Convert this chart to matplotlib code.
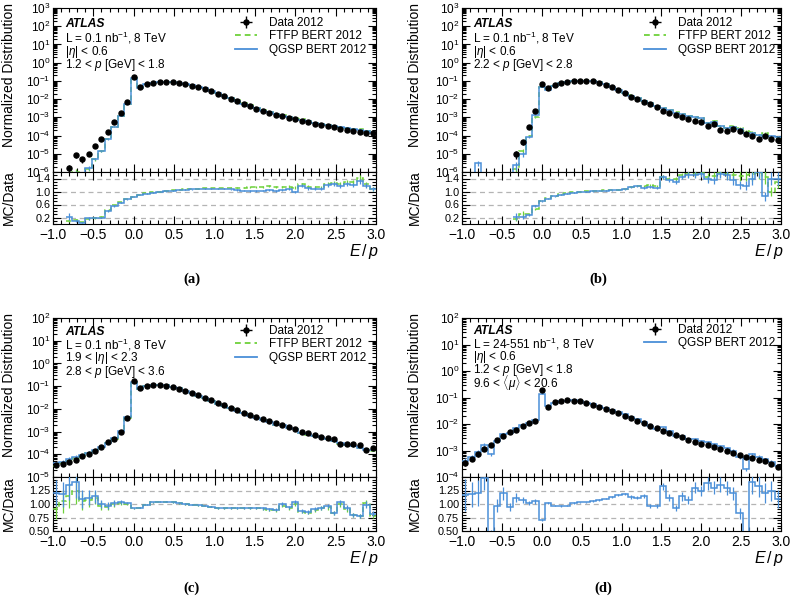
import numpy as np
import matplotlib
matplotlib.use("Agg")
import matplotlib.pyplot as plt
from matplotlib.ticker import MultipleLocator, LogLocator, NullFormatter
from matplotlib.lines import Line2D

nan = np.nan

# 50 bins of width 0.08 in E/p, from -1 to 3
ep_edges = np.linspace(-1.0, 3.0, 51)

# ---------------- panel (a) ----------------
data_a = [nan, nan, 1.7e-6, 8.5e-6, 5e-6, 1.0e-5, 2.6e-5, 6.7e-5, 1.6e-4, 5.4e-4,
          1.8e-3, 7.0e-3, 0.17, 0.045, 0.069, 0.081, 0.085, 0.087, 0.085, 0.074,
          0.066, 0.055, 0.045, 0.036, 0.027, 0.020, 0.0144, 0.0107, 0.0077, 0.0055,
          0.0041, 0.0030, 0.0023, 0.0018, 0.0014, 0.00115, 9.3e-4, 7.8e-4, 6.3e-4, 5.4e-4,
          4.5e-4, 3.8e-4, 3.2e-4, 2.8e-4, 2.4e-4, 2.0e-4, 1.85e-4, 1.6e-4, 1.45e-4, 1.3e-4]
qgsp_a_ratio = [nan, nan, 0.22, 0.10, 0.04, 0.17, 0.20, 0.20, 0.40, 0.55,
                0.66, 0.76, 0.83, 0.89, 0.93, 0.96, 0.99, 1.01, 1.03, 1.05,
                1.06, 1.07, 1.08, 1.09, 1.09, 1.09, 1.08, 1.07, 1.05, 1.03,
                1.02, 1.02, 1.03, 1.04, 1.03, 1.06, 1.07, 0.98, 1.18, 1.10,
                1.09, 1.08, 1.20, 1.22, 1.17, 1.24, 1.20, 1.32, 1.18, 1.08]
ftfp_a_ratio = [nan, nan, 0.10, 0.12, 0.05, 0.15, 0.19, 0.22, 0.42, 0.57,
                0.67, 0.77, 0.84, 0.90, 0.94, 0.97, 1.00, 1.02, 1.04, 1.06,
                1.07, 1.08, 1.09, 1.10, 1.10, 1.10, 1.10, 1.11, 1.12, 1.12,
                1.14, 1.14, 1.15, 1.16, 1.15, 1.14, 1.15, 1.12, 1.22, 1.14,
                1.13, 1.13, 1.24, 1.25, 1.22, 1.30, 1.28, 1.42, 1.22, 1.08]
rel_err_a = [0.3, 0.3, 0.5, 0.35, 0.4, 0.25, 0.15, 0.1, 0.06, 0.04,
             0.03, 0.02, 0.01, 0.01, 0.01, 0.01, 0.01, 0.01, 0.01, 0.01,
             0.01, 0.01, 0.01, 0.01, 0.012, 0.012, 0.015, 0.015, 0.02, 0.02,
             0.02, 0.025, 0.025, 0.03, 0.03, 0.03, 0.035, 0.035, 0.04, 0.04,
             0.04, 0.045, 0.045, 0.05, 0.05, 0.05, 0.055, 0.06, 0.06, 0.06]

# ---------------- panel (b) ----------------
data_b = [nan, nan, nan, nan, nan, nan, nan, nan, 1.0e-5, 4.5e-5,
          3.1e-4, 2.3e-3, 0.066, 0.043, 0.063, 0.081, 0.092, 0.100, 0.105, 0.105,
          0.096, 0.081, 0.063, 0.045, 0.032, 0.021, 0.0138, 0.0100, 0.0071, 0.0053,
          0.0037, 0.0022, 0.0018, 0.00135, 0.0010, 7.8e-4, 6.6e-4, 5.6e-4, 3.5e-4, 4.2e-4,
          2.1e-4, 1.7e-4, 2.2e-4, 1.8e-4, 1.2e-4, 1.0e-4, 6.8e-5, 1.0e-4, 6.5e-5, 6.0e-5]
qgsp_b_ratio = [nan, nan, nan, nan, nan, nan, nan, nan, 0.23, 0.22,
                0.28, 0.56, 0.70, 0.78, 0.85, 0.90, 0.93, 0.96, 0.99, 1.00,
                1.01, 1.02, 1.03, 1.04, 1.05, 1.07, 1.13, 1.16, 1.12, 1.14,
                1.12, 1.44, 1.35, 1.30, 1.45, 1.52, 1.50, 1.55, 1.38, 1.35,
                1.55, 1.50, 1.35, 1.20, 1.18, 1.40, 1.60, 0.85, 1.40, 1.40]
ftfp_b_ratio = [nan, nan, nan, nan, nan, nan, nan, nan, 0.15, 0.30,
                0.30, 0.45, 0.72, 0.80, 0.86, 0.91, 0.94, 0.97, 1.00, 1.01,
                1.02, 1.03, 1.04, 1.05, 1.06, 1.08, 1.15, 1.18, 1.16, 1.19,
                1.17, 1.45, 1.40, 1.38, 1.50, 1.55, 1.55, 1.58, 1.45, 1.48,
                1.58, 1.55, 1.50, 1.48, 1.50, 1.55, 1.58, 1.45, 1.00, 1.30]
rel_err_b = [0.3, 0.3, 0.3, 0.3, 0.3, 0.3, 0.3, 0.3, 0.45, 0.3,
             0.12, 0.06, 0.02, 0.015, 0.01, 0.01, 0.01, 0.01, 0.01, 0.01,
             0.01, 0.01, 0.01, 0.01, 0.01, 0.01, 0.02, 0.02, 0.025, 0.025,
             0.03, 0.04, 0.04, 0.05, 0.05, 0.06, 0.06, 0.07, 0.08, 0.08,
             0.09, 0.1, 0.1, 0.1, 0.12, 0.15, 0.12, 0.15, 0.15, 0.15]
# QGSP bin filled where no data exists (E/p = -0.76)
qgsp_b_extra_bin = 2
qgsp_b_extra_val = 3.0e-6

# ---------------- panel (c) ----------------
data_c = [3.3e-5, 3.9e-5, 4.6e-5, 5.5e-5, 8.2e-5, 1.07e-4, 1.35e-4, 2.1e-4, 3.4e-4, 4.9e-4,
          9.8e-4, 4.1e-3, 0.17, 0.080, 0.100, 0.112, 0.112, 0.105, 0.091, 0.078,
          0.063, 0.050, 0.039, 0.031, 0.0235, 0.0186, 0.0141, 0.0112, 0.0085, 0.0068,
          0.0053, 0.0042, 0.0035, 0.0029, 0.0023, 0.0019, 0.00155, 0.00128, 0.0010, 8.8e-4,
          7.4e-4, 6.0e-4, 5.1e-4, 4.5e-4, 2.9e-4, 2.8e-4, 2.8e-4, 2.5e-4, 1.6e-4, 1.85e-4]
qgsp_c_ratio = [1.20, 1.18, 1.35, 1.40, 1.10, 1.12, 1.14, 1.00, 0.97, 1.02,
                1.04, 1.02, 0.92, 0.93, 0.99, 1.03, 1.04, 1.04, 1.03, 1.01,
                1.00, 0.99, 0.98, 0.97, 0.95, 0.92, 0.92, 0.93, 0.93, 0.93,
                0.93, 0.92, 0.92, 0.90, 0.89, 1.00, 0.94, 1.03, 0.87, 0.85,
                0.90, 0.93, 0.96, 0.84, 1.03, 0.93, 0.80, 0.78, 0.99, 0.82]
ftfp_c_ratio = [0.90, 1.05, 1.15, 1.25, 1.05, 1.08, 1.12, 0.97, 0.95, 1.00,
                1.02, 1.00, 0.92, 0.93, 0.99, 1.03, 1.04, 1.04, 1.03, 1.01,
                1.00, 0.99, 0.98, 0.97, 0.95, 0.92, 0.92, 0.93, 0.93, 0.93,
                0.92, 0.92, 0.91, 0.89, 0.88, 0.97, 0.92, 1.00, 0.86, 0.84,
                0.89, 0.92, 0.94, 0.84, 1.00, 0.90, 0.79, 0.77, 1.02, 0.78]
rel_err_c = [0.2, 0.2, 0.2, 0.2, 0.15, 0.12, 0.1, 0.08, 0.06, 0.05,
             0.04, 0.02, 0.01, 0.01, 0.01, 0.01, 0.01, 0.01, 0.01, 0.01,
             0.01, 0.01, 0.01, 0.01, 0.01, 0.01, 0.015, 0.015, 0.015, 0.02,
             0.02, 0.02, 0.025, 0.025, 0.03, 0.03, 0.03, 0.035, 0.035, 0.04,
             0.04, 0.04, 0.045, 0.045, 0.05, 0.05, 0.05, 0.05, 0.06, 0.06]

# ---------------- panel (d) ----------------
data_d = [3.5e-4, 4.9e-4, 7.4e-4, 1.12e-3, 1.6e-3, 2.4e-3, 3.4e-3, 4.8e-3, 6.2e-3, 8.3e-3,
          0.0107, 0.0135, 0.20, 0.045, 0.066, 0.076, 0.078, 0.076, 0.071, 0.061,
          0.053, 0.045, 0.036, 0.031, 0.025, 0.0204, 0.0166, 0.0135, 0.0107, 0.0087,
          0.0069, 0.0056, 0.0047, 0.0038, 0.0031, 0.0025, 0.0021, 0.0018, 0.00155, 0.00133,
          0.00112, 9.4e-4, 8.3e-4, 6.8e-4, 5.5e-4, 5.2e-4, 4.4e-4, 3.9e-4, 3.1e-4, 2.4e-4]
qgsp_d_ratio = [1.17, 1.18, 1.20, 1.48, 0.45, 0.97, 1.20, 0.94, 1.12, 1.07,
                1.02, 1.05, 0.70, 1.02, 0.97, 0.96, 0.97, 1.02, 1.03, 1.03,
                1.06, 1.08, 1.10, 1.13, 1.17, 1.19, 1.13, 1.12, 1.15, 0.97,
                0.97, 1.33, 1.12, 0.93, 1.14, 1.08, 1.30, 1.24, 1.38, 1.30,
                1.36, 1.30, 1.20, 0.83, 0.35, 1.40, 1.33, 1.20, 1.24, 1.10]
rel_err_d = [0.25, 0.2, 0.2, 0.15, 0.15, 0.12, 0.1, 0.08, 0.07, 0.05,
             0.04, 0.04, 0.02, 0.02, 0.015, 0.015, 0.015, 0.015, 0.015, 0.015,
             0.015, 0.015, 0.015, 0.015, 0.015, 0.015, 0.03, 0.03, 0.03, 0.04,
             0.04, 0.05, 0.06, 0.06, 0.07, 0.07, 0.08, 0.08, 0.09, 0.09,
             0.1, 0.1, 0.1, 0.12, 0.12, 0.15, 0.15, 0.15, 0.15, 0.15]

# ---------------- style ----------------
plt.rcParams["font.family"] = ["Liberation Sans", "DejaVu Sans"]
plt.rcParams["mathtext.fontset"] = "custom"
plt.rcParams["mathtext.rm"] = "Liberation Sans"
plt.rcParams["mathtext.it"] = "Liberation Sans:italic"
plt.rcParams["mathtext.bf"] = "Liberation Sans:bold"
plt.rcParams["axes.linewidth"] = 0.8

BLUE = "#4a8fd8"
GREEN = "#6ed13a"
DASH = (0, (3.2, 2.2))
W, H = 793, 598
MS = 3.6

fig = plt.figure(figsize=(W / 100, H / 100), dpi=100)


def frect(l, r, t, b):
    return [l / W, 1 - b / H, (r - l) / W, (b - t) / H]


def ftxt(x, y, s, **kw):
    fig.text(x / W, 1 - y / H, s, **kw)


def draw_panel(box, data, rel, mcs, main_ylim, ratio_ylim, ratio_ticks, ratio_labels,
               ratio_minor, text_lines, text_x, text_ys, leg_xy, letter, letter_xy, ylab_x):
    l, r, t, mb, rb = box
    ax = fig.add_axes(frect(l, r, t, mb))
    rx = fig.add_axes(frect(l, r, mb, rb))
    centers = 0.5 * (ep_edges[1:] + ep_edges[:-1])
    data = np.asarray(data, float)
    rel = np.asarray(rel, float)

    for g in ratio_ticks:
        if ratio_ylim[0] < g < ratio_ylim[1]:
            rx.axhline(g, color="#b4b4b4", ls=(0, (4, 3)), lw=0.9, zorder=0)

    handles = []
    for name, ratio, color, ls, extra in mcs:
        ratio = np.asarray(ratio, float)
        mc = np.where(np.isnan(data) | np.isnan(ratio), 0.0, data * ratio)
        for k, v in extra:
            mc[k] = v
        ax.stairs(mc, ep_edges, baseline=None, color=color, lw=1.1, ls=ls, zorder=3)
        ok = mc > 0
        ax.vlines(centers[ok], mc[ok] * (1 - rel[ok]), mc[ok] * (1 + rel[ok]),
                  color=color, lw=0.9, zorder=3)
        rx.stairs(ratio, ep_edges, baseline=None, color=color, lw=1.1, ls=ls, zorder=3)
        ok = ~np.isnan(ratio)
        rx.vlines(centers[ok], ratio[ok] * (1 - rel[ok]), ratio[ok] * (1 + rel[ok]),
                  color=color, lw=0.9, zorder=3)
        handles.append((Line2D([], [], color=color, lw=1.3, ls=ls), name))

    ax.errorbar(centers, data, yerr=data * rel, fmt="o", ms=MS, color="k",
                elinewidth=1.0, capsize=0, zorder=5)
    proxy = ax.errorbar([nan], [nan], xerr=[1.0], yerr=[1.0], fmt="o", ms=MS,
                        color="k", elinewidth=1.0, capsize=0)

    ax.set_yscale("log", nonpositive="clip")
    ax.set_ylim(*main_ylim)
    ax.set_xlim(-1.0, 3.0)
    rx.set_xlim(-1.0, 3.0)
    rx.set_ylim(*ratio_ylim)
    ax.yaxis.set_major_locator(LogLocator(base=10, numticks=20))
    ax.yaxis.set_minor_locator(LogLocator(base=10, subs=np.arange(2, 10), numticks=20))
    ax.yaxis.set_minor_formatter(NullFormatter())
    for a in (ax, rx):
        a.xaxis.set_major_locator(MultipleLocator(0.5))
        a.xaxis.set_minor_locator(MultipleLocator(0.1))
        a.tick_params(which="both", direction="in", top=True, right=True, width=0.8)
        a.tick_params(which="major", length=6)
        a.tick_params(which="minor", length=3)
        a.tick_params(axis="y", pad=2)
    ax.tick_params(axis="y", labelsize=8.5)
    ax.tick_params(labelbottom=False)
    rx.tick_params(axis="y", labelsize=7.8)
    rx.tick_params(axis="x", labelsize=10, pad=3)
    rx.set_yticks(ratio_ticks)
    rx.set_yticklabels(ratio_labels)
    rx.yaxis.set_minor_locator(MultipleLocator(ratio_minor))

    # text block
    for i, (s, y) in enumerate(zip(text_lines, text_ys)):
        if i == 0:
            ftxt(text_x, y, s, fontsize=8.7, fontweight="bold", fontstyle="italic", va="center")
        else:
            ftxt(text_x, y, s, fontsize=8.5, va="center")

    hl = [proxy] + [h for h, _ in handles]
    labs = ["Data 2012"] + [n for _, n in handles]
    lx, ly = leg_xy
    ax.legend(hl, labs, loc="upper left",
              bbox_to_anchor=((lx - l) / (r - l), 1 - (ly - t) / (mb - t)),
              frameon=False, fontsize=8.5, handlelength=1.9, handletextpad=0.95,
              labelspacing=0.12, borderpad=0, borderaxespad=0)

    ftxt(ylab_x, t - 5, "Normalized Distribution", rotation=90, ha="center", va="top", fontsize=10)
    ftxt(ylab_x, (mb + rb) / 2, "MC/Data", rotation=90, ha="center", va="center", fontsize=10)
    ftxt(r + 3, rb + 28, r"$E\,/\,p$", ha="right", va="center", fontsize=11.5)
    ftxt(letter_xy[0], letter_xy[1], letter, ha="center", va="center", fontsize=10.5,
         fontweight="bold", family=["Liberation Serif", "DejaVu Serif"])


ratio_ticks_ab = [0.2, 0.6, 1.0, 1.4]
ratio_labels_ab = ["0.2", "0.6", "1.0", "1.4"]
ratio_ticks_cd = [0.5, 0.75, 1.0, 1.25]
ratio_labels_cd = ["0.50", "0.75", "1.00", "1.25"]

draw_panel((53, 376, 8, 172, 224), data_a, rel_err_a,
           [("FTFP BERT 2012", ftfp_a_ratio, GREEN, DASH, []),
            ("QGSP BERT 2012", qgsp_a_ratio, BLUE, "-", [])],
           (1e-6, 1e3), (0.0, 1.6), ratio_ticks_ab, ratio_labels_ab, 0.1,
           ["ATLAS", r"L = 0.1 nb$^{-1}$, 8 TeV", r"$|\eta|$ < 0.6", r"1.2 < $p$ [GeV] < 1.8"],
           65, [24, 38, 52, 65], (235, 17), "(a)", (192, 279), 9)

draw_panel((462, 781, 8, 172, 224), data_b, rel_err_b,
           [("FTFP BERT 2012", ftfp_b_ratio, GREEN, DASH, []),
            ("QGSP BERT 2012", qgsp_b_ratio, BLUE, "-", [(qgsp_b_extra_bin, qgsp_b_extra_val)])],
           (1e-6, 1e3), (0.0, 1.6), ratio_ticks_ab, ratio_labels_ab, 0.1,
           ["ATLAS", r"L = 0.1 nb$^{-1}$, 8 TeV", r"$|\eta|$ < 0.6", r"2.2 < $p$ [GeV] < 2.8"],
           473, [24, 38, 52, 65], (644, 17), "(b)", (598, 279), 415)

draw_panel((53, 376, 318, 477, 531), data_c, rel_err_c,
           [("FTFP BERT 2012", ftfp_c_ratio, GREEN, DASH, []),
            ("QGSP BERT 2012", qgsp_c_ratio, BLUE, "-", [])],
           (1e-5, 1e2), (0.5, 1.5), ratio_ticks_cd, ratio_labels_cd, 0.05,
           ["ATLAS", r"L = 0.1 nb$^{-1}$, 8 TeV", r"1.9 < $|\eta|$ < 2.3", r"2.8 < $p$ [GeV] < 3.6"],
           65, [332, 345, 358, 372], (235, 325), "(c)", (192, 588), 9)

draw_panel((462, 781, 318, 477, 531), data_d, rel_err_d,
           [("QGSP BERT 2012", qgsp_d_ratio, BLUE, "-", [])],
           (1e-4, 1e2), (0.5, 1.5), ratio_ticks_cd, ratio_labels_cd, 0.05,
           ["ATLAS", r"L = 24-551 nb$^{-1}$, 8 TeV", r"$|\eta|$ < 0.6", r"1.2 < $p$ [GeV] < 1.8",
            r"9.6 < $\langle\mu\rangle$ < 20.6"],
           473, [331, 344, 357, 370, 383], (644, 324), "(d)", (603, 588), 415)

fig.savefig("out.png", dpi=100)
